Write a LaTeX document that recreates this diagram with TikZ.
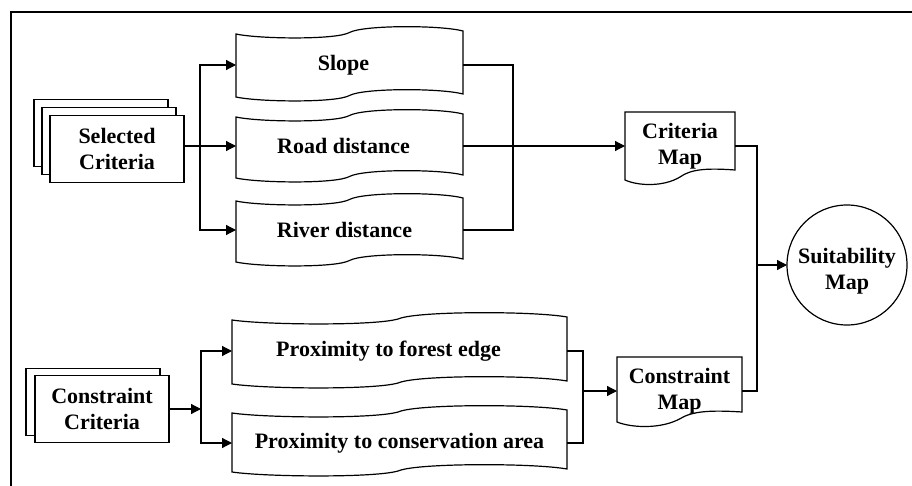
\documentclass[tikz,border=0pt]{standalone}
\usepackage{fontspec}
\setmainfont{Liberation Serif}
\usetikzlibrary{arrows.meta,shadows}

% Wavy "tape" outline: left, top, right, bottom (y grows downwards)
\newcommand\tapeoutline[4]{%
  \draw[outline] (#1,#2)
    .. controls ({#1+0.10*(#3-#1)},{#2+5}) and ({#1+0.44*(#3-#1)},{#2+6}) .. ({(#1+#3)/2},{#2-1.5})
    .. controls ({#1+0.56*(#3-#1)},{#2-9}) and ({#1+0.90*(#3-#1)},{#2-9}) .. (#3,{#2-3})
    -- (#3,{#4-3})
    .. controls ({#1+0.90*(#3-#1)},{#4-9}) and ({#1+0.56*(#3-#1)},{#4-9}) .. ({(#1+#3)/2},{#4-1.5})
    .. controls ({#1+0.44*(#3-#1)},{#4+6}) and ({#1+0.10*(#3-#1)},{#4+5}) .. (#1,#4)
    -- cycle;}

% Document outline with a wavy bottom: left, top, right, bottom of the right edge
\newcommand\docoutline[4]{%
  \draw[outline] (#1,#2) -- (#3,#2) -- (#3,#4)
    .. controls ({#3-0.25*(#3-#1)},{#4-2}) and ({#3-0.40*(#3-#1)},{#4-1}) .. ({(#1+#3)/2},{#4+7})
    .. controls ({#1+0.35*(#3-#1)},{#4+17}) and ({#1+0.12*(#3-#1)},{#4+16}) .. (#1,{#4+10})
    -- cycle;}

\begin{document}
\begin{tikzpicture}[x=1pt,y=-1pt,
  every node/.style={font=\bfseries\fontsize{22}{26}\selectfont, inner sep=0pt, outer sep=0pt},
  outline/.style={line width=1.2pt},
  conn/.style={line width=1.2pt},
  arrow/.style={conn,-{Triangle[length=10pt,width=10pt]}},
  stackbox/.style={draw, line width=1.2pt, fill=white, align=center,
    minimum width=134pt, minimum height=67pt},
  tapebox/.style={minimum width=227pt, minimum height=62pt},
  widetape/.style={minimum width=335pt},
  docbox/.style={align=center},
]
\useasboundingbox (0,0) rectangle (912,486);
\fill[white] (0,0) rectangle (912,486);

% frame
\draw[line width=2.5pt] (11,486) -- (11,12) -- (912,12);

% input stacks
\node[stackbox, double copy shadow={shadow xshift=-8pt, shadow yshift=8pt}]
  (selc) at (117,149) {Selected\\Criteria};
\node[stackbox, copy shadow={shadow xshift=-9pt, shadow yshift=7pt}]
  (conc) at (102,409) {Constraint\\Criteria};

% criteria layers
\tapeoutline{236}{34}{463}{97}
\node[tapebox] (slope) at (349.5,65) {Slope\kern12pt};
\tapeoutline{236}{117}{463}{178}
\node[tapebox] (road) at (349.5,146) {Road distance\kern12pt};
\tapeoutline{236}{201}{463}{262}
\node[tapebox] (river) at (349.5,230) {River distance\kern10pt};

% constraint layers
\tapeoutline{232}{320}{567}{384}
\node[tapebox, widetape, minimum height=64pt] (forest) at (399.5,351) {Proximity to forest edge\kern22pt};
\tapeoutline{232}{413}{567}{472}
\node[tapebox, widetape, minimum height=60pt] (cons) at (399.5,443) {Proximity to conservation area};

% maps
\docoutline{625}{112}{735}{170}
\node[docbox, minimum width=110pt, minimum height=68pt] (crit) at (680,146) {Criteria\\Map};
\docoutline{617}{357}{742}{412}
\node[docbox, minimum width=125pt, minimum height=70pt] (cmap) at (679.5,391) {Constraint\\Map};
\node[draw, circle, line width=1.2pt, align=center, minimum size=120pt] (suit) at (847,265)
  {\rule{0pt}{28pt}Suitability\\Map};

% junction points
\coordinate (jl1) at (200,146);
\coordinate (jt) at (513,146);
\coordinate (jl2) at (201,409);
\coordinate (jb) at (583,391);
\coordinate (jr) at (757,265);

% connectors: selected criteria
\draw[arrow] (selc.east |- road.west) -- (road.west);
\draw[arrow] (jl1) |- (slope.west);
\draw[arrow] (jl1) |- (river.west);
\draw[conn] (slope.east) -| (jt);
\draw[conn] (river.east) -| (jt);
\draw[arrow] (road.east) -- (crit.west);

% connectors: constraint criteria
\draw[arrow] (conc.east) -- (jl2);
\draw[arrow] (jl2) |- (forest.west);
\draw[arrow] (jl2) |- (cons.west);
\draw[conn] (forest.east) -| (jb);
\draw[conn] (cons.east) -| (jb);
\draw[arrow] (jb) -- (cmap.west);

% connectors: to suitability map
\draw[conn] (crit.east) -| (jr);
\draw[conn] (cmap.east) -| (jr);
\draw[arrow] (jr) -- (suit.west);
\end{tikzpicture}
\end{document}
